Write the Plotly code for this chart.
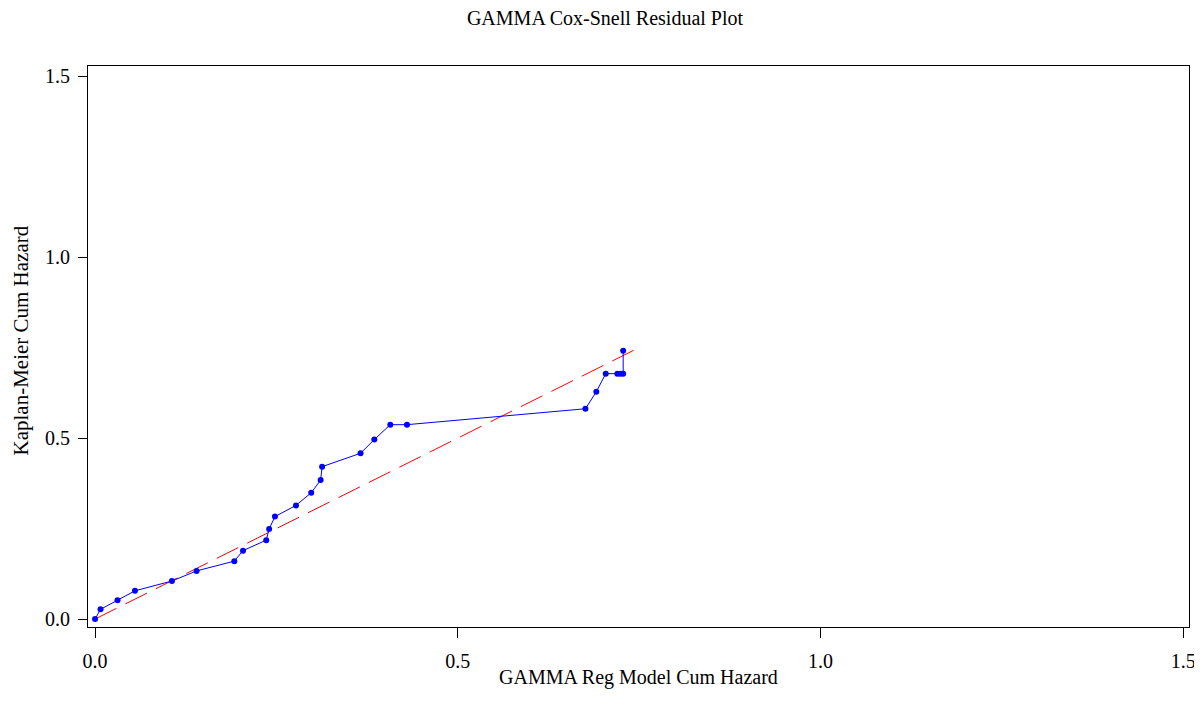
import plotly.graph_objects as go

# Cox-Snell residual (model cum hazard) vs Kaplan-Meier cum hazard
model_cum_hazard = [0.0, 0.0076, 0.031, 0.055, 0.106, 0.140, 0.192, 0.204, 0.236, 0.240,
                    0.248, 0.277, 0.298, 0.311, 0.313, 0.366, 0.385, 0.407, 0.430,
                    0.676, 0.691, 0.704, 0.720, 0.724, 0.728, 0.728]
km_cum_hazard = [0.0, 0.027, 0.052, 0.078, 0.105, 0.133, 0.160, 0.189, 0.218, 0.249,
                 0.283, 0.314, 0.349, 0.384, 0.421, 0.458, 0.496, 0.537, 0.537,
                 0.581, 0.628, 0.678, 0.678, 0.678, 0.678, 0.741]
ref_line_x = [0.0, 0.75]
ref_line_y = [0.0, 0.75]
tick_vals = [0.0, 0.5, 1.0, 1.5]

FONT = "Liberation Serif"
W, H = 1194, 710  # page body has an 8px margin

fig = go.Figure()
fig.add_trace(go.Scatter(
    x=ref_line_x, y=ref_line_y, mode="lines",
    line=dict(color="#ff0000", width=1, dash="24px,10px"),
    showlegend=False, hoverinfo="skip"))
fig.add_trace(go.Scatter(
    x=model_cum_hazard, y=km_cum_hazard, mode="lines+markers",
    line=dict(color="#0000ff", width=1),
    marker=dict(color="#0000ff", size=6, symbol="circle"),
    showlegend=False))

axis_common = dict(
    showline=True, linecolor="black", linewidth=1, mirror=True,
    showgrid=False, zeroline=False, ticks="outside", tickcolor="black",
    tickwidth=1, tickvals=tick_vals, tickformat=".1f", automargin=False,
    tickfont=dict(family=FONT, size=20, color="black"),
)

fig.update_layout(
    width=W, height=H,
    paper_bgcolor="white", plot_bgcolor="white",
    margin=dict(l=80, r=13, t=58, b=91),
    font=dict(family=FONT, size=20, color="black"),
    title=dict(text="GAMMA Cox-Snell Residual Plot", x=0.5, xanchor="center",
               y=1 - 10 / H, yanchor="middle", yref="container",
               font=dict(family=FONT, size=20, color="black")),
    xaxis=dict(range=[-0.0097, 1.508], ticklen=10, ticklabelstandoff=6,
               **axis_common),
    yaxis=dict(range=[-0.022, 1.528], ticklen=9, ticklabelstandoff=4,
               **axis_common),
    annotations=[
        dict(text="GAMMA Reg Model Cum Hazard", xref="paper", yref="paper",
             x=0.5, y=0, xanchor="center", yanchor="middle", yshift=-50,
             showarrow=False, font=dict(family=FONT, size=20, color="black")),
        dict(text="Kaplan-Meier Cum Hazard", xref="paper", yref="paper",
             x=0, y=0.5, xanchor="center", yanchor="middle", xshift=-68, yshift=6,
             textangle=-90, showarrow=False,
             font=dict(family=FONT, size=21, color="black")),
    ],
)

fig.write_html("out.html")
